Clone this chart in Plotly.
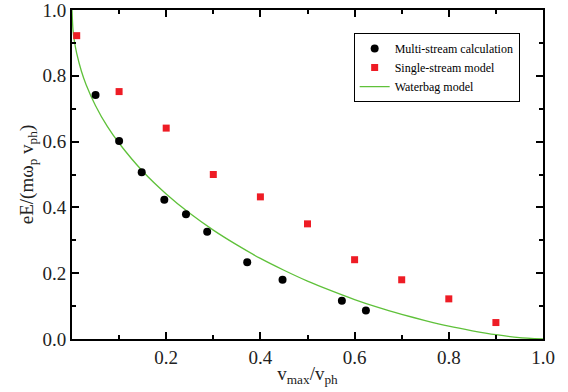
import plotly.graph_objects as go

# Multi-stream calculation (black circles)
ms_x = [0.050, 0.100, 0.148, 0.196, 0.242, 0.287, 0.372, 0.447, 0.573, 0.624]
ms_y = [0.742, 0.602, 0.507, 0.423, 0.379, 0.326, 0.233, 0.180, 0.116, 0.087]

# Single-stream model (red squares)
ss_x = [0.01, 0.1, 0.2, 0.3, 0.4, 0.5, 0.6, 0.7, 0.8, 0.9]
ss_y = [0.922, 0.752, 0.641, 0.500, 0.432, 0.350, 0.241, 0.180, 0.122, 0.050]

# Waterbag model (green line)
wb_x = [0.0, 0.002, 0.005, 0.01, 0.02, 0.03, 0.05, 0.075, 0.1, 0.15, 0.2, 0.25, 0.3,
        0.35, 0.4, 0.45, 0.5, 0.55, 0.6, 0.65, 0.7, 0.75, 0.8, 0.85, 0.9, 0.95, 1.0]
wb_y = [1.0, 0.941, 0.906, 0.868, 0.814, 0.773, 0.709, 0.646, 0.595, 0.510, 0.441, 0.382,
        0.331, 0.286, 0.245, 0.209, 0.176, 0.147, 0.120, 0.096, 0.075, 0.056, 0.039,
        0.025, 0.013, 0.004, 0.0]

x_tickvals = [0.2, 0.4, 0.6, 0.8, 1.0]
x_ticktext = ["0.2", "0.4", "0.6", "0.8", "1.0"]
y_tickvals = [0.0, 0.2, 0.4, 0.6, 0.8, 1.0]
y_ticktext = ["0.0", "0.2", "0.4", "0.6", "0.8", "1.0"]

fig = go.Figure()
fig.add_trace(go.Scatter(x=wb_x, y=wb_y, mode="lines", name="Waterbag model",
                         line=dict(color="#5fc13a", width=1.3, shape="spline", smoothing=0.6),
                         legendrank=3))
fig.add_trace(go.Scatter(x=ss_x, y=ss_y, mode="markers", name="Single-stream model",
                         marker=dict(symbol="square", size=7, color="#ee1c25"),
                         legendrank=2))
fig.add_trace(go.Scatter(x=ms_x, y=ms_y, mode="markers", name="Multi-stream calculation",
                         marker=dict(symbol="circle", size=8, color="black"),
                         legendrank=1))

font_family = "Liberation Serif, Times New Roman, serif"
axis_common = dict(
    showline=True, linecolor="black", linewidth=2, mirror="ticks",
    ticks="inside", ticklen=7, tickwidth=1.5, tickcolor="black",
    showgrid=False, zeroline=False, automargin=False,
    ticklabeloverflow="allow",
    tickfont=dict(family=font_family, size=19, color="#222"),
)

fig.update_xaxes(range=[0, 1], tickvals=x_tickvals, ticktext=x_ticktext,
                 minor=dict(ticks="inside", ticklen=4, tickwidth=1.5, tickcolor="black", dtick=0.1, tick0=0),
                 title=dict(text="v<sub>max</sub>/v<sub>ph</sub>", standoff=0,
                            font=dict(family=font_family, size=19, color="#222")),
                 **axis_common)
fig.update_yaxes(range=[0, 1], tickvals=y_tickvals, ticktext=y_ticktext,
                 minor=dict(ticks="inside", ticklen=4, tickwidth=1.5, tickcolor="black", dtick=0.1, tick0=0),
                 title=dict(text="eE/(mω<sub>p</sub> v<sub>ph</sub>)", standoff=4,
                            font=dict(family=font_family, size=19, color="#222")),
                 **axis_common)

fig.update_layout(
    width=568, height=392,
    margin=dict(l=72, r=25, t=10, b=53, autoexpand=False),
    paper_bgcolor="white", plot_bgcolor="white",
    font=dict(family=font_family, color="black"),
    legend=dict(x=0.598, y=0.93, xanchor="left", yanchor="top",
                bgcolor="white", bordercolor="black", borderwidth=1,
                font=dict(family=font_family, size=12, color="black"),
                tracegroupgap=0, itemwidth=30),
    showlegend=True,
)

fig.write_html("out.html", config={"displayModeBar": False},
               post_script="document.body.style.margin='0';document.body.style.overflow='hidden';")
